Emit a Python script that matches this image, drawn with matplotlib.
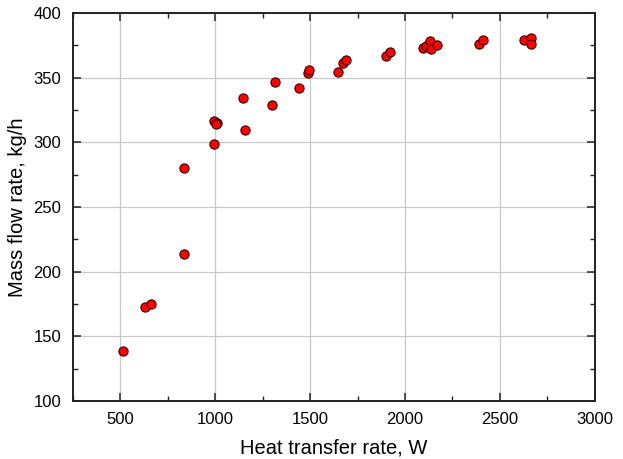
import matplotlib
matplotlib.use("Agg")
import matplotlib.pyplot as plt
from matplotlib.ticker import MultipleLocator

# heat transfer rate, W
q_w = [514, 630, 661, 838, 837, 996, 996, 1009, 1004, 1147, 1158,
       1302, 1317, 1442, 1491, 1493, 1649, 1672, 1688, 1900, 1919,
       2093, 2110, 2133, 2135, 2167, 2391, 2410, 2625, 2662, 2665]
# mass flow rate, kg/h
m_kgh = [138.8, 172.4, 175.2, 279.9, 213.4, 298.7, 316.7, 315.3, 313.9, 334.3, 309.5,
         328.8, 346.4, 342.2, 353.4, 356.2, 354.6, 361.6, 363.7, 367.0, 370.1,
         372.7, 374.5, 378.3, 372.4, 375.3, 376.0, 379.1, 379.1, 380.9, 375.8]

plt.rcParams['font.family'] = ['Liberation Sans', 'DejaVu Sans']

fig = plt.figure(figsize=(6.23, 4.59), dpi=100)
ax = fig.add_axes([0.1165, 0.1264, 0.8385, 0.8453])

ax.scatter(q_w, m_kgh, s=44, c="#ff0000", edgecolors="#3a0000", linewidths=0.8, zorder=3)

ax.set_xlim(250, 3000)
ax.set_ylim(100, 400)
ax.xaxis.set_major_locator(MultipleLocator(500))
ax.xaxis.set_minor_locator(MultipleLocator(250))
ax.yaxis.set_major_locator(MultipleLocator(50))
ax.yaxis.set_minor_locator(MultipleLocator(25))

ax.grid(True, which="major", color="#c8c8c8", lw=0.9, zorder=0)
ax.tick_params(which="both", direction="in", top=True, right=True, labelsize=12, color="#222222")
ax.tick_params(which="major", length=6, width=1.1, pad=8)
ax.tick_params(which="minor", length=3.5, width=1.0)
for s in ax.spines.values():
    s.set_linewidth(1.4)
    s.set_color("#222222")

ax.set_xlabel("Heat transfer rate, W", fontsize=14.5, labelpad=8)
ax.set_ylabel("Mass flow rate, kg/h", fontsize=14.5, labelpad=5)

fig.savefig("out.png", dpi=100)
